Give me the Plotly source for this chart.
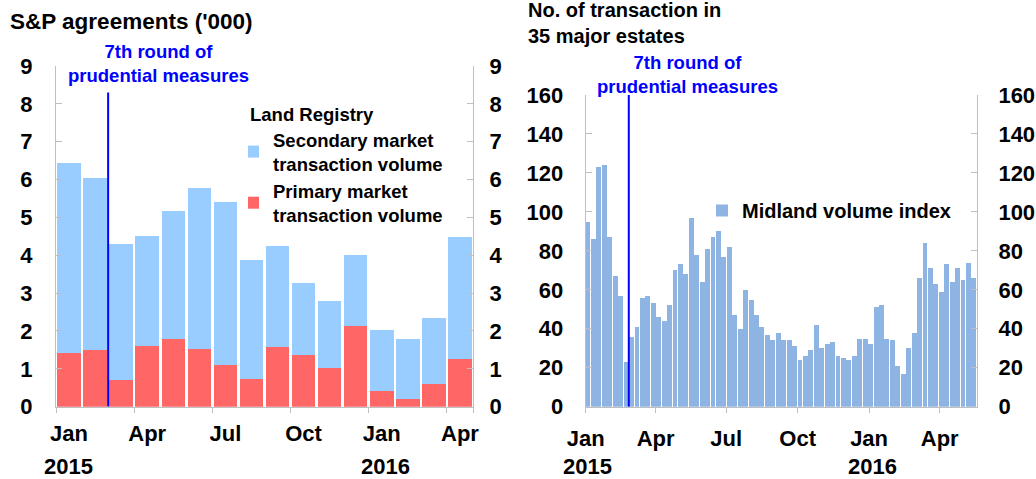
import plotly.graph_objects as go
import pandas as pd

# ---------------- data ----------------
months = ["2015-01", "2015-02", "2015-03", "2015-04", "2015-05", "2015-06",
          "2015-07", "2015-08", "2015-09", "2015-10", "2015-11", "2015-12",
          "2016-01", "2016-02", "2016-03", "2016-04"]
primary = [1.43, 1.51, 0.71, 1.61, 1.78, 1.52, 1.09, 0.73, 1.57, 1.37, 1.02, 2.12,
           0.42, 0.20, 0.61, 1.27]
secondary = [5.00, 4.53, 3.60, 2.91, 3.39, 4.27, 4.32, 3.14, 2.67, 1.91, 1.78, 1.90,
             1.60, 1.58, 1.73, 3.20]
left_tickvals = ["2015-01", "2015-04", "2015-07", "2015-10", "2016-01", "2016-04"]
quarter_labels = ["Jan", "Apr", "Jul", "Oct", "Jan", "Apr"]

weeks = pd.date_range("2015-01-04", periods=72, freq="7D")
midland = [95, 86, 123, 124, 87, 67, 57, 23, 36, 41, 56, 57, 53, 46, 44, 52,
           70, 73, 68, 97, 78, 64, 81, 87, 90, 77, 82, 47, 40, 60, 55, 47,
           41, 37, 34, 38, 34, 34, 31, 24, 26, 29, 42, 30, 32, 33, 26, 25,
           24, 26, 35, 35, 32, 51, 52, 35, 34, 21, 17, 30, 38, 66, 84, 71,
           63, 59, 73, 64, 71, 65, 74, 66]
right_tickvals = ["2015-01-01", "2015-04-01", "2015-07-01", "2015-10-01",
                  "2016-01-01", "2016-04-01"]
left_yticks = list(range(0, 10))
right_yticks = list(range(0, 161, 20))
measure_date = "2015-02-25 12:00"

FONT = "Arial, 'Liberation Sans', sans-serif"
BLUE_LIGHT = "#99CCFF"
RED = "#FF6666"
MID = "#8DB4E2"
AX = "#BFBFBF"
W, H = 1036, 479


def px(x):
    return x / W


def py(y):
    return 1 - y / H


fig = go.Figure()
fig.add_trace(go.Bar(x=months, y=primary, name="Primary market<br>transaction volume",
                     marker_color=RED, marker_line_width=0, xaxis="x", yaxis="y",
                     legend="legend"))
fig.add_trace(go.Bar(x=months, y=secondary, name="Secondary market<br>transaction volume",
                     marker_color=BLUE_LIGHT, marker_line_width=0, xaxis="x", yaxis="y",
                     legend="legend"))
fig.add_trace(go.Bar(x=weeks, y=midland, name="Midland volume index",
                     marker_color=MID, marker_line_width=0, xaxis="x2", yaxis="y3",
                     legend="legend2"))

tickfont = dict(family=FONT, size=22, color="black", weight="bold")
yaxis_common = dict(showgrid=False, zeroline=False, showline=True, linecolor=AX,
                    linewidth=1, ticks="inside", ticklen=6, tickcolor=AX,
                    tickfont=tickfont, fixedrange=True, automargin=False)
xaxis_common = dict(ticks="outside", ticklen=5, tickcolor=AX, showline=True,
                    linecolor=AX, showgrid=False, zeroline=False, tickfont=tickfont,
                    tickangle=0, automargin=False, fixedrange=True,
                    ticklabelstandoff=7)

fig.update_layout(
    width=W, height=H,
    margin=dict(l=0, r=0, t=0, b=0, autoexpand=False),
    paper_bgcolor="white", plot_bgcolor="white",
    barmode="stack", bargap=0.1,
    font=dict(family=FONT, color="black"),
    xaxis=dict(domain=[px(56), px(473)], anchor="y", type="category",
               categoryorder="array", categoryarray=months,
               range=[-0.5, 15.5], tickmode="array", tickvals=left_tickvals,
               ticktext=quarter_labels, tickson="boundaries", **xaxis_common),
    yaxis=dict(domain=[1 - 406.7 / H, 1 - 66 / H], range=[0, 9], anchor="x",
               tickvals=left_yticks, ticklabelstandoff=18, **yaxis_common),
    yaxis2=dict(domain=[1 - 406.7 / H, 1 - 66 / H], range=[0, 9], anchor="x",
                overlaying="y", side="right", tickvals=left_yticks,
                ticklabelstandoff=11, **yaxis_common),
    xaxis2=dict(domain=[px(585.7), px(977)], anchor="y3", type="date",
                range=["2015-01-01", "2016-05-19"], tickmode="array",
                tickvals=right_tickvals, ticktext=quarter_labels, **xaxis_common),
    yaxis3=dict(domain=[1 - 406.7 / H, 1 - 95 / H], range=[0, 160], anchor="x2",
                tickvals=right_yticks, ticklabelstandoff=17, **yaxis_common),
    yaxis4=dict(domain=[1 - 406.7 / H, 1 - 95 / H], range=[0, 160], anchor="x2",
                overlaying="y3", side="right", tickvals=right_yticks,
                ticklabelstandoff=16, **yaxis_common),
    legend=dict(x=px(248), y=py(97), xanchor="left", yanchor="top",
                traceorder="reversed", bgcolor="rgba(0,0,0,0)", indentation=-15,
                title=dict(text="Land Registry",
                           font=dict(size=18.5, family=FONT, weight="bold")),
                font=dict(size=18.5, family=FONT, color="black", weight="bold"),
                itemwidth=30, tracegroupgap=0),
    legend2=dict(x=px(702), y=py(191), xanchor="left", yanchor="top",
                 bgcolor="rgba(0,0,0,0)",
                 font=dict(size=20, family=FONT, color="black", weight="bold"),
                 itemwidth=30),
    showlegend=True,
)

# invisible overlay traces so right axes render
fig.add_trace(go.Bar(x=months, y=[None] * len(months), xaxis="x", yaxis="y2",
                     showlegend=False, hoverinfo="skip"))
fig.add_trace(go.Bar(x=weeks, y=[None] * len(weeks), xaxis="x2", yaxis="y4",
                     showlegend=False, hoverinfo="skip"))

# 7th round of prudential measures lines
fig.add_shape(type="line", xref="x", yref="y", x0=1.5, x1=1.5, y0=0, y1=8.3,
              line=dict(color="#0000FF", width=2))
fig.add_shape(type="line", xref="x2", yref="y3", x0=measure_date, x1=measure_date,
              y0=0, y1=160, line=dict(color="#0000FF", width=2))

ann = []
ann.append(dict(text="<b>S&P agreements ('000)</b>", x=px(8), y=py(22), xref="paper",
                yref="paper", xanchor="left", yanchor="middle", showarrow=False,
                font=dict(size=22.5, family=FONT, color="black")))
ann.append(dict(text="<b>No. of transaction in<br>35 major estates</b>", x=px(526),
                y=py(23), xref="paper", yref="paper", xanchor="left", yanchor="middle",
                align="left", showarrow=False,
                font=dict(size=20, family=FONT, color="black")))
ann.append(dict(text="<b>7th round of<br>prudential measures</b>", x=px(158), y=py(63),
                xref="paper", yref="paper", xanchor="center", yanchor="middle",
                showarrow=False, font=dict(size=18.5, family=FONT, color="#0000FF")))
ann.append(dict(text="<b>7th round of<br>prudential measures</b>", x=px(687), y=py(74),
                xref="paper", yref="paper", xanchor="center", yanchor="middle",
                showarrow=False, font=dict(size=18.5, family=FONT, color="#0000FF")))
for xx, yr in [(68, "2015"), (385, "2016"), (587.5, "2015"), (872.5, "2016")]:
    ann.append(dict(text=f"<b>{yr}</b>", x=px(xx), y=py(466), xref="paper",
                    yref="paper", xanchor="center", yanchor="middle", showarrow=False,
                    font=dict(size=22, family=FONT, color="black")))
fig.update_layout(annotations=ann)

fig.write_html("out.html", config={"displayModeBar": False},
               post_script="document.body.style.margin='0';")
